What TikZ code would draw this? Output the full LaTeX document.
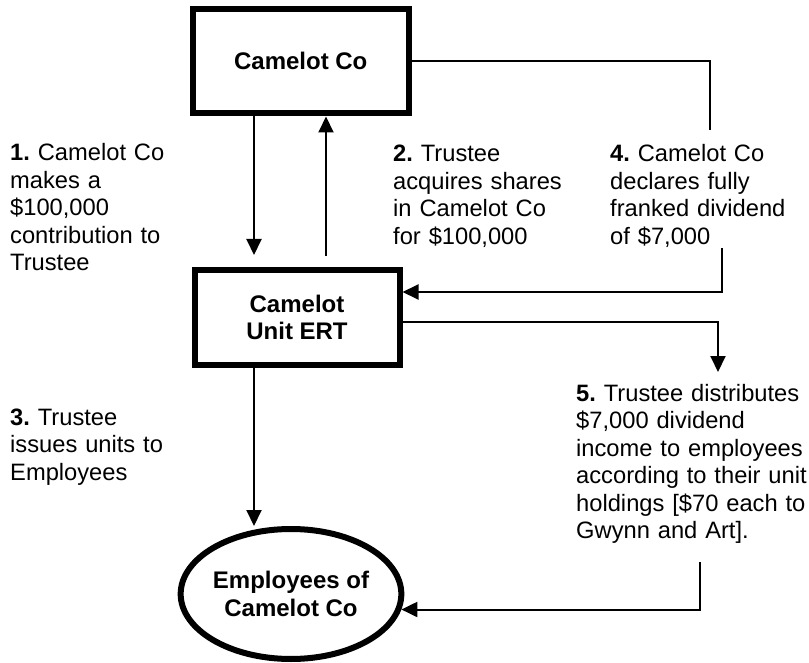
\documentclass[tikz,border=0pt]{standalone}
\usepackage{fontspec}
\setmainfont{Liberation Sans}
\usetikzlibrary{arrows.meta,shapes.geometric,calc}
\frenchspacing
\begin{document}
\begin{tikzpicture}[x=1pt,y=1pt,
  box/.style={draw, line width=6pt, inner sep=0pt, font=\fontsize{24}{27.5}\selectfont\bfseries, align=center},
  lbl/.style={font=\fontsize{23.7}{27.5}\selectfont\frenchspacing, text width=250pt, align=left, anchor=base west, inner sep=0pt},
  conn/.style={line width=2pt},
  arr/.style={conn, -{Triangle[width=15pt,length=16pt]}}]
\useasboundingbox (0,0) rectangle (809,-663);
% boxes
\node[box, minimum width=216.5pt, minimum height=104.5pt] (cc) at (300.75,-61.25) {Camelot Co};
\node[box, minimum width=205pt, minimum height=94.5pt] (ert) at (297,-317.25) {Camelot\\Unit ERT};
\node[box, ellipse, minimum width=216pt, minimum height=130pt] (emp) at (291,-594) {Employees of\\Camelot Co};
% texts
\node[lbl] (t1) at (10,-161) {\textbf{1.} Camelot Co\\makes a\\\$100,000\\contribution to\\Trustee};
\node[lbl] (t2) at (393,-162) {\textbf{2.} Trustee\\acquires shares\\in Camelot Co\\for \$100,000};
\node[lbl] (t3) at (10,-425) {\textbf{3.} Trustee\\issues units to\\Employees};
\node[lbl] (t4) at (610,-162) {\textbf{4.} Camelot Co\\declares fully\\franked dividend\\of \$7,000};
\node[lbl] (t5) at (576,-401) {\textbf{5.} Trustee distributes\\\$7,000 dividend\\income to employees\\according to their unit\\holdings [\$70 each to\\Gwynn and Art].};
% helper coordinates
\coordinate (xa) at (254,0);
\coordinate (xb) at (326,0);
\coordinate (d1) at (710,-130);
\coordinate (d2) at (722,-248);
\coordinate (yd) at (0,-292);
\coordinate (e1) at (718,-372);
\coordinate (ye) at (0,-322);
\coordinate (f1) at (700,-562);
% connectors
\draw[arr, shorten >=12pt] (cc.south -| xa) -- (ert.north -| xa);
\draw[arr, shorten <=11pt] (ert.north -| xb) -- (cc.south -| xb);
\draw[conn] (cc.east) -| (d1);
\draw[arr] (d2) |- (ert.east |- yd);
\draw[arr] (ert.east |- ye) -| (e1);
\draw[arr] (ert.south -| xa) -- (emp.north -| xa);
\draw[arr] (f1) |- (emp.-8.4);
\end{tikzpicture}
\end{document}
